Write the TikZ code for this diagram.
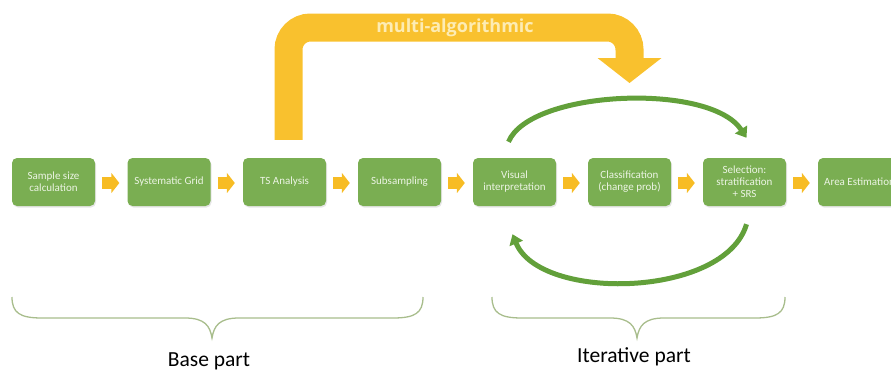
\documentclass[tikz,border=0pt]{standalone}
\usepackage{fontspec}
\setmainfont{Carlito}
\newfontfamily\opensans{Open Sans}
\usetikzlibrary{arrows.meta,shadows,calc}
\definecolor{boxgreen}{RGB}{122,174,82}
\definecolor{arcgreen}{RGB}{98,160,58}
\definecolor{gold}{RGB}{249,193,46}
\definecolor{chev}{RGB}{247,188,36}
\definecolor{bracecol}{RGB}{168,189,140}
\definecolor{boxtext}{RGB}{236,244,228}
\definecolor{bandtext}{RGB}{253,236,180}
\begin{document}
\begin{tikzpicture}[x=1pt,y=-1pt,
  stepbox/.style={fill=boxgreen, rounded corners=5pt, minimum width=83pt, minimum height=48pt,
    inner sep=1pt, text=boxtext, font=\fontsize{11}{12}\selectfont, align=center,
    drop shadow={opacity=0.2, shadow xshift=1pt, shadow yshift=-1.5pt}},
  chevarrow/.style={chev, line width=12pt, -{Triangle[length=8pt,width=20pt]}},
  bigband/.style={gold, line width=28pt, rounded corners=22pt},
  loopline/.style={arcgreen, line width=5pt, -{Triangle[length=10pt,width=14pt]}},
  bracepath/.style={bracecol, line width=1.3pt},
  partlabel/.style={font=\fontsize{21.5}{21.5}\selectfont, text=black, anchor=base}
]
\useasboundingbox (0,0) rectangle (891,370);
\clip (0,0) rectangle (891,370);

% boxes
\node[stepbox] (b1) at (53.5,182) {Sample size\\calculation};
\node[stepbox] (b2) at (169,182) {Systematic Grid};
\node[stepbox] (b3) at (284.5,182) {TS Analysis};
\node[stepbox] (b4) at (399.5,182) {Subsampling};
\node[stepbox] (b5) at (514.5,182) {Visual\\interpretation};
\node[stepbox] (b6) at (629.5,182) {Classification\\(change prob)};
\node[stepbox] (b7) at (744.5,182) {Selection:\\stratification\\+ SRS};
\node[stepbox] (b8) at (859.5,182) {Area Estimation};

% small block arrows between boxes
\foreach \a/\b in {b1/b2,b2/b3,b3/b4,b4/b5,b5/b6,b6/b7,b7/b8}
  \draw[chevarrow] ([xshift=7pt,yshift=-1pt]\a.east) -- ([xshift=-8pt,yshift=-1pt]\b.west);

% big multi-algorithmic arrow
\coordinate (bigstart) at ([xshift=4pt,yshift=18pt]b3.north);
\coordinate (bigtip) at (629.5,83);
\coordinate (bigbase) at ([yshift=25pt]bigtip);
\draw[bigband] (bigstart) |- (bigbase |- 0,27.5) -- ([yshift=-2pt]bigbase);
\fill[gold] ([xshift=-32pt]bigbase) -- (bigtip) -- ([xshift=32pt]bigbase) -- cycle;
\node[font=\opensans\bfseries\fontsize{18}{18}\selectfont, text=bandtext] (ml) at (455,28) {multi-algorithmic};

% iterative loop arrows
\coordinate (ta) at ([xshift=-6pt,yshift=16pt]b5.north);
\coordinate (tb) at ([xshift=2pt,yshift=20pt]b7.north);
\draw[loopline] (ta) .. controls (530,90) and (710,82) .. (tb);
\coordinate (ba) at ([xshift=2pt,yshift=-18pt]b7.south);
\coordinate (bb) at ([xshift=-2pt,yshift=-28pt]b5.south);
\draw[loopline] (ba) .. controls (725,298) and (540,302) .. (bb);

% braces
\draw[bracepath] (12,297) .. controls (12,313) and (20,318) .. (42,318) -- (185,318)
  .. controls (205,318) and (210,326) .. (212,338)
  .. controls (214,326) and (219,318) .. (239,318) -- (393,318)
  .. controls (415,318) and (423,313) .. (423,297);
\draw[bracepath] (492,297) .. controls (492,313) and (500,318) .. (522,318) -- (610,318)
  .. controls (630,318) and (635,326) .. (637,338)
  .. controls (639,326) and (644,318) .. (664,318) -- (755,318)
  .. controls (777,318) and (785,313) .. (785,297);

\node[partlabel] (base) at (209,366) {Base part};
\node[partlabel] (iter) at (634,362) {Iterative part};
\end{tikzpicture}
\end{document}
